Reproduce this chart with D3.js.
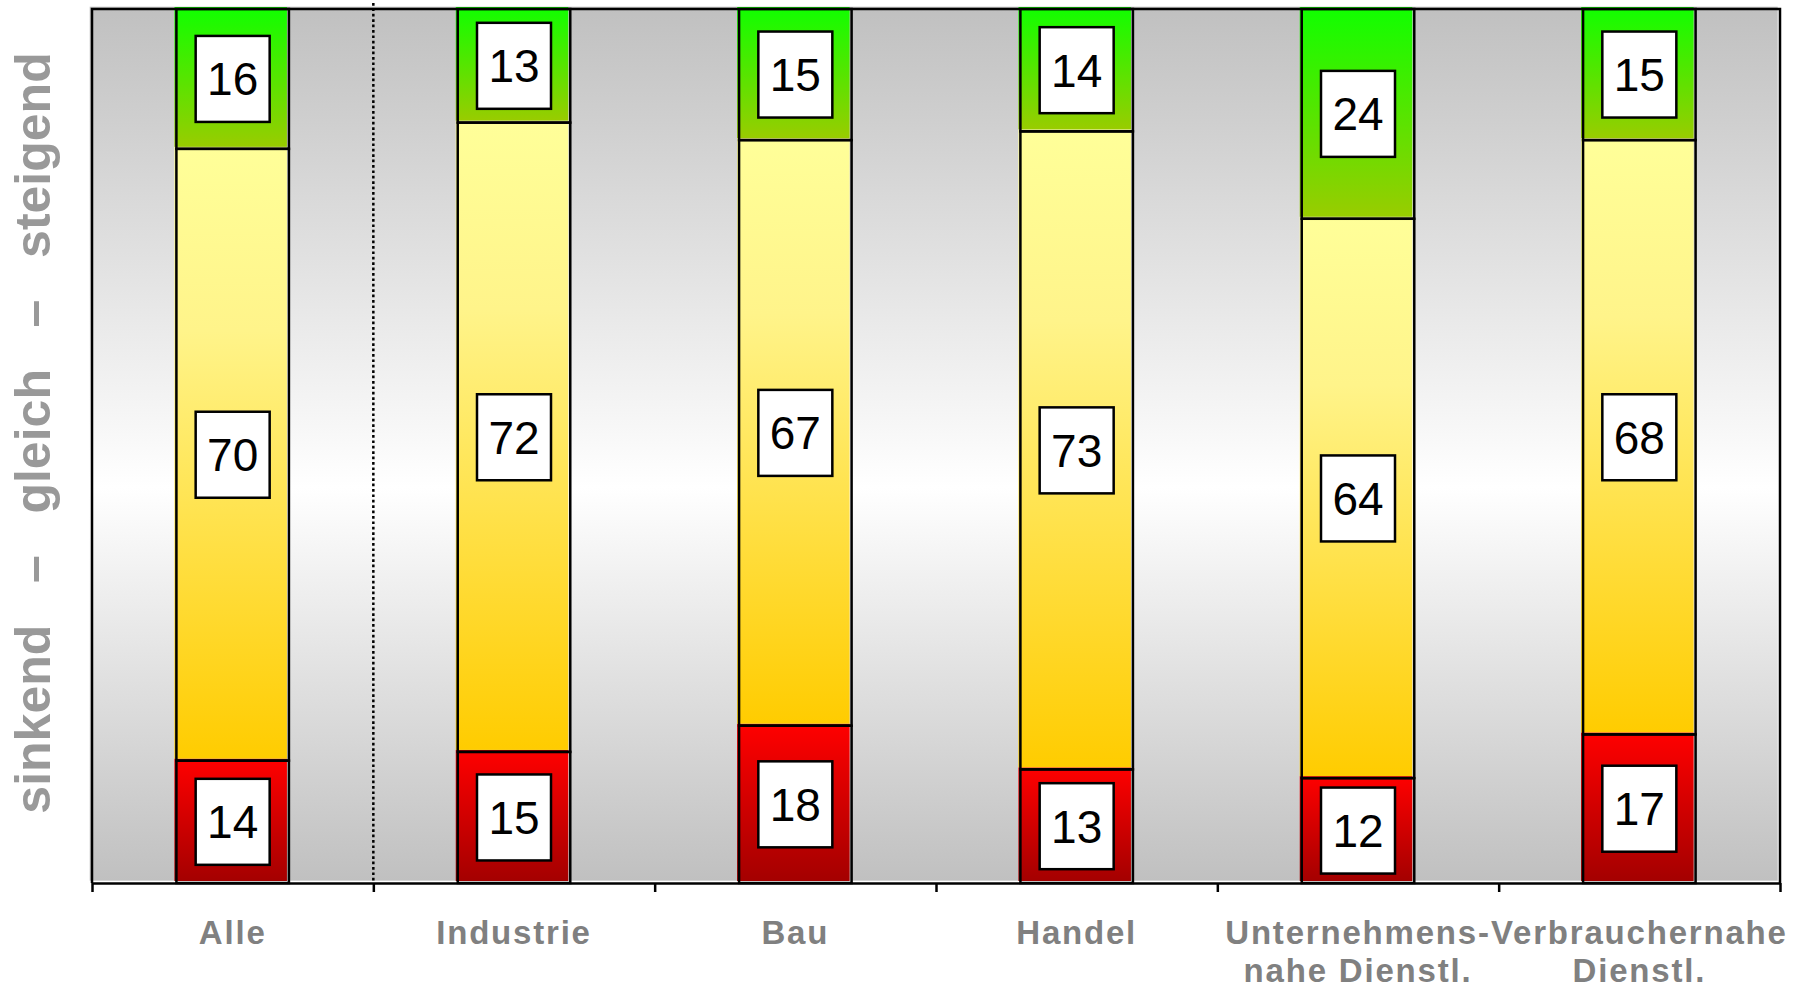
<!DOCTYPE html>
<html>
<head>
<meta charset="utf-8">
<script src="https://cdn.jsdelivr.net/npm/d3@7"></script>
<style>
  html, body { margin: 0; padding: 0; background: #ffffff; }
  svg { display: block; }
  text { font-family: "Liberation Sans", Arial, sans-serif; }
</style>
</head>
<body>
<svg id="chart" width="1810" height="990"></svg>
<script>
// Categories (line breaks mark wrapped labels)
const categories = ["Alle", "Industrie", "Bau", "Handel", "Unternehmens-\nnahe Dienstl.", "Verbrauchernahe\nDienstl."];
// Shares in percent, bottom to top
const sinkend  = [14, 15, 18, 13, 12, 17];
const gleich   = [70, 72, 67, 73, 64, 68];
const steigend = [16, 13, 15, 14, 24, 15];
const seriesKeys = ["sinkend", "gleich", "steigend"];
const axisTitle = "sinkend   \u2013   gleich   \u2013   steigend";
// Dotted separator is drawn after this many categories
const separatorAfter = 1;

(function draw() {
  const rows = categories.map((c, i) => ({
    cat: c, sinkend: sinkend[i], gleich: gleich[i], steigend: steigend[i]
  }));

  const svg = d3.select("#chart");
  const plotLeft = 92, plotRight = 1780, plotTop = 9, plotBottom = 883;

  const x = d3.scaleBand().domain(categories).range([plotLeft, plotRight])
    .paddingInner(0.6).paddingOuter(0.3);
  const xEdge = d3.scaleLinear().domain([0, categories.length]).range([plotLeft, plotRight]);
  const y = d3.scaleLinear().domain([0, 100]).range([plotBottom, plotTop]);

  const defs = svg.append("defs");
  function vGrad(id, stops) {
    const g = defs.append("linearGradient").attr("id", id)
      .attr("x1", 0).attr("y1", 0).attr("x2", 0).attr("y2", 1);
    stops.forEach(([o, c]) => g.append("stop").attr("offset", o).attr("stop-color", c));
  }
  vGrad("bgGrad", [[0, "#c0c0c0"], [0.55, "#ffffff"], [1, "#c0c0c0"]]);
  vGrad("g-steigend", [[0, "#10ff00"], [1, "#99cc00"]]);
  vGrad("g-gleich", [[0, "#ffff99"], [0.3, "#fff48a"], [1, "#ffcc00"]]);
  vGrad("g-sinkend", [[0, "#ff0000"], [1, "#a40000"]]);

  // Plot area background
  const off = 2.3;
  svg.append("rect")
    .attr("x", plotLeft - off).attr("y", plotTop - off)
    .attr("width", plotRight - plotLeft).attr("height", plotBottom - plotTop)
    .attr("fill", "url(#bgGrad)");

  // Stacked bars
  const stack = d3.stack().keys(seriesKeys)(rows);
  const layers = svg.append("g").selectAll("g").data(stack).join("g");

  // fills, set off slightly from the outlines
  layers.selectAll("rect.fill").data(d => d.map(v => ({ v, key: d.key })))
    .join("rect").attr("class", "fill")
    .attr("x", d => x(d.v.data.cat) - 2)
    .attr("y", d => y(d.v[1]) - 2)
    .attr("width", x.bandwidth())
    .attr("height", d => y(d.v[0]) - y(d.v[1]))
    .attr("fill", d => `url(#g-${d.key})`);

  // outlines
  layers.selectAll("rect.edge").data(d => d.map(v => ({ v, key: d.key })))
    .join("rect").attr("class", "edge")
    .attr("x", d => x(d.v.data.cat))
    .attr("y", d => y(d.v[1]))
    .attr("width", x.bandwidth())
    .attr("height", d => y(d.v[0]) - y(d.v[1]))
    .attr("fill", "none").attr("stroke", "#000").attr("stroke-width", 2.5);

  // Plot frame (top, left, right)
  svg.append("path")
    .attr("d", `M${plotLeft},${plotBottom}V${plotTop}H${plotRight}V${plotBottom}`)
    .attr("fill", "none").attr("stroke", "#000").attr("stroke-width", 2.5);

  // Dotted separator
  svg.append("line")
    .attr("x1", xEdge(separatorAfter)).attr("x2", xEdge(separatorAfter))
    .attr("y1", 3).attr("y2", plotBottom)
    .attr("stroke", "#000").attr("stroke-width", 2.5)
    .attr("stroke-dasharray", "2.7,2.7");

  // Bottom axis with ticks at category boundaries
  const axisG = svg.append("g").attr("transform", `translate(0,${plotBottom})`)
    .call(d3.axisBottom(xEdge).tickValues(d3.range(categories.length + 1))
      .tickSize(9).tickSizeOuter(0).tickFormat(""));
  axisG.select(".domain").attr("stroke", "#000").attr("stroke-width", 2.5);
  axisG.selectAll(".tick line").attr("stroke", "#000").attr("stroke-width", 2.5);

  // Category labels
  const labelG = svg.append("g").attr("transform", `translate(0,${plotBottom})`)
    .call(d3.axisBottom(x).tickSize(0).tickPadding(0));
  labelG.select(".domain").remove();
  labelG.selectAll(".tick text")
    .attr("y", 0).attr("dy", null)
    .attr("fill", "#808080")
    .style("font-size", "33px").style("font-weight", "bold")
    .style("letter-spacing", "1.8px")
    .style("font-family", '"Liberation Sans", Arial, sans-serif')
    .each(function(d) {
      const t = d3.select(this).text("");
      d.split("\n").forEach((line, i) => {
        t.append("tspan").attr("x", 0).attr("y", 61 + i * 38).text(line);
      });
    });

  // Value labels in boxes
  const boxW = 74, boxH = 86;
  const labels = svg.append("g").selectAll("g")
    .data(stack.flatMap(layer => layer.map(v => ({ v, key: layer.key }))))
    .join("g")
    .attr("transform", d => {
      const cx = x(d.v.data.cat) + x.bandwidth() / 2;
      const cy = (y(d.v[0]) + y(d.v[1])) / 2;
      return `translate(${cx},${cy})`;
    });
  labels.append("rect")
    .attr("x", -boxW / 2).attr("y", -boxH / 2)
    .attr("width", boxW).attr("height", boxH)
    .attr("fill", "#fff").attr("stroke", "#000").attr("stroke-width", 2.5);
  labels.append("text")
    .attr("text-anchor", "middle").attr("y", 16.5)
    .style("font-size", "46px").attr("fill", "#000")
    .text(d => d.v.data[d.key]);

  // Vertical axis title
  svg.append("text")
    .attr("transform", "translate(50,433) rotate(-90)")
    .attr("text-anchor", "middle")
    .style("white-space", "pre")
    .style("font-size", "50px").style("font-weight", "bold")
    .attr("fill", "#999999")
    .text(axisTitle);
})();
</script>
</body>
</html>
